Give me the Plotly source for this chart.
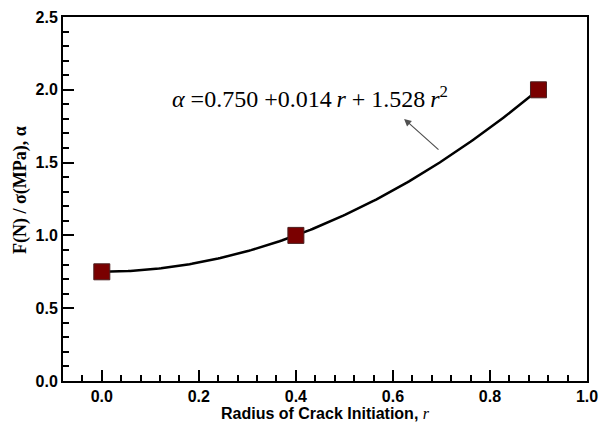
import numpy as np
import plotly.graph_objects as go

# Data
radius = [0.0, 0.4, 0.9]
alpha = [0.75, 1.0, 2.0]
fit_coeffs = [0.750, 0.014, 1.528]  # alpha = c0 + c1 r + c2 r^2 (from chart annotation)
x_ticks = [0.0, 0.2, 0.4, 0.6, 0.8, 1.0]
y_ticks = [0.0, 0.5, 1.0, 1.5, 2.0, 2.5]

r_fit = np.linspace(min(radius), max(radius), 200)
a_fit = fit_coeffs[0] + fit_coeffs[1] * r_fit + fit_coeffs[2] * r_fit ** 2

fig = go.Figure()
fig.add_trace(go.Scatter(x=r_fit, y=a_fit, mode="lines",
                         line=dict(color="black", width=2.5), showlegend=False,
                         hoverinfo="skip"))
fig.add_trace(go.Scatter(x=radius, y=alpha, mode="markers",
                         marker=dict(symbol="square", size=16, color="#7a0000",
                                     line=dict(color="#4a2020", width=1)),
                         showlegend=False))

fig.add_annotation(x=0.43, y=1.95, xref="x", yref="y",
                   text="<i>α</i> =0.750 +0.014&#8201;<i>r</i> + 1.528&#8201;<i>r</i><sup>2</sup>",
                   showarrow=False,
                   font=dict(family="Liberation Serif, Times New Roman, serif", size=24, color="black"))
fig.add_annotation(x=0.623, y=1.80, ax=0.697, ay=1.58, xref="x", yref="y",
                   axref="x", ayref="y", text="", showarrow=True,
                   arrowhead=2, arrowsize=1.2, arrowwidth=1.2, arrowcolor="#505050")

# y-axis title as a rotated annotation
fig.add_annotation(x=-0.08, y=0.525, xref="paper", yref="paper",
                   text="<b>F(N) / σ(MPa), α</b>", textangle=-90, showarrow=False,
                   xanchor="center", yanchor="middle",
                   font=dict(family="Liberation Serif, Times New Roman, serif", size=18, color="black"))

tick_font = dict(family="Liberation Sans, Arial, sans-serif", size=16, color="black")

fig.update_xaxes(range=[-0.08, 1.0], tickvals=x_ticks,
                 ticktext=[f"<b>{v:.1f}</b>" for v in x_ticks],
                 ticks="inside", ticklen=11, tickwidth=2, tickcolor="black",
                 minor=dict(ticks="inside", ticklen=6, tickwidth=2, tickcolor="black", dtick=0.04, tick0=0),
                 showline=True, linewidth=2, linecolor="black", mirror=True,
                 showgrid=False, zeroline=False, automargin=False,
                 tickfont=tick_font,
                 title=dict(text="<b>Radius of Crack Initiation, </b><span style=\"font-family:Liberation Serif\"><i>r</i></span>",
                            font=dict(family="Liberation Sans, Arial, sans-serif", size=16, color="black"),
                            standoff=0))
fig.update_yaxes(range=[0, 2.5], tickvals=y_ticks,
                 ticktext=[f"<b>{v:.1f}</b>" for v in y_ticks],
                 ticks="inside", ticklen=11, tickwidth=2, tickcolor="black",
                 minor=dict(ticks="inside", ticklen=6, tickwidth=2, tickcolor="black", dtick=0.1, tick0=0),
                 showline=True, linewidth=2, linecolor="black", mirror=True,
                 showgrid=False, zeroline=False, automargin=False,
                 tickfont=tick_font)

fig.update_layout(width=600, height=428, margin=dict(l=63, r=13, t=17, b=47),
                  plot_bgcolor="white", paper_bgcolor="white")

fig.write_html("out.html", config={"displayModeBar": False},
               post_script="document.body.style.margin='0';document.body.style.padding='0';document.body.style.overflow='hidden';")
